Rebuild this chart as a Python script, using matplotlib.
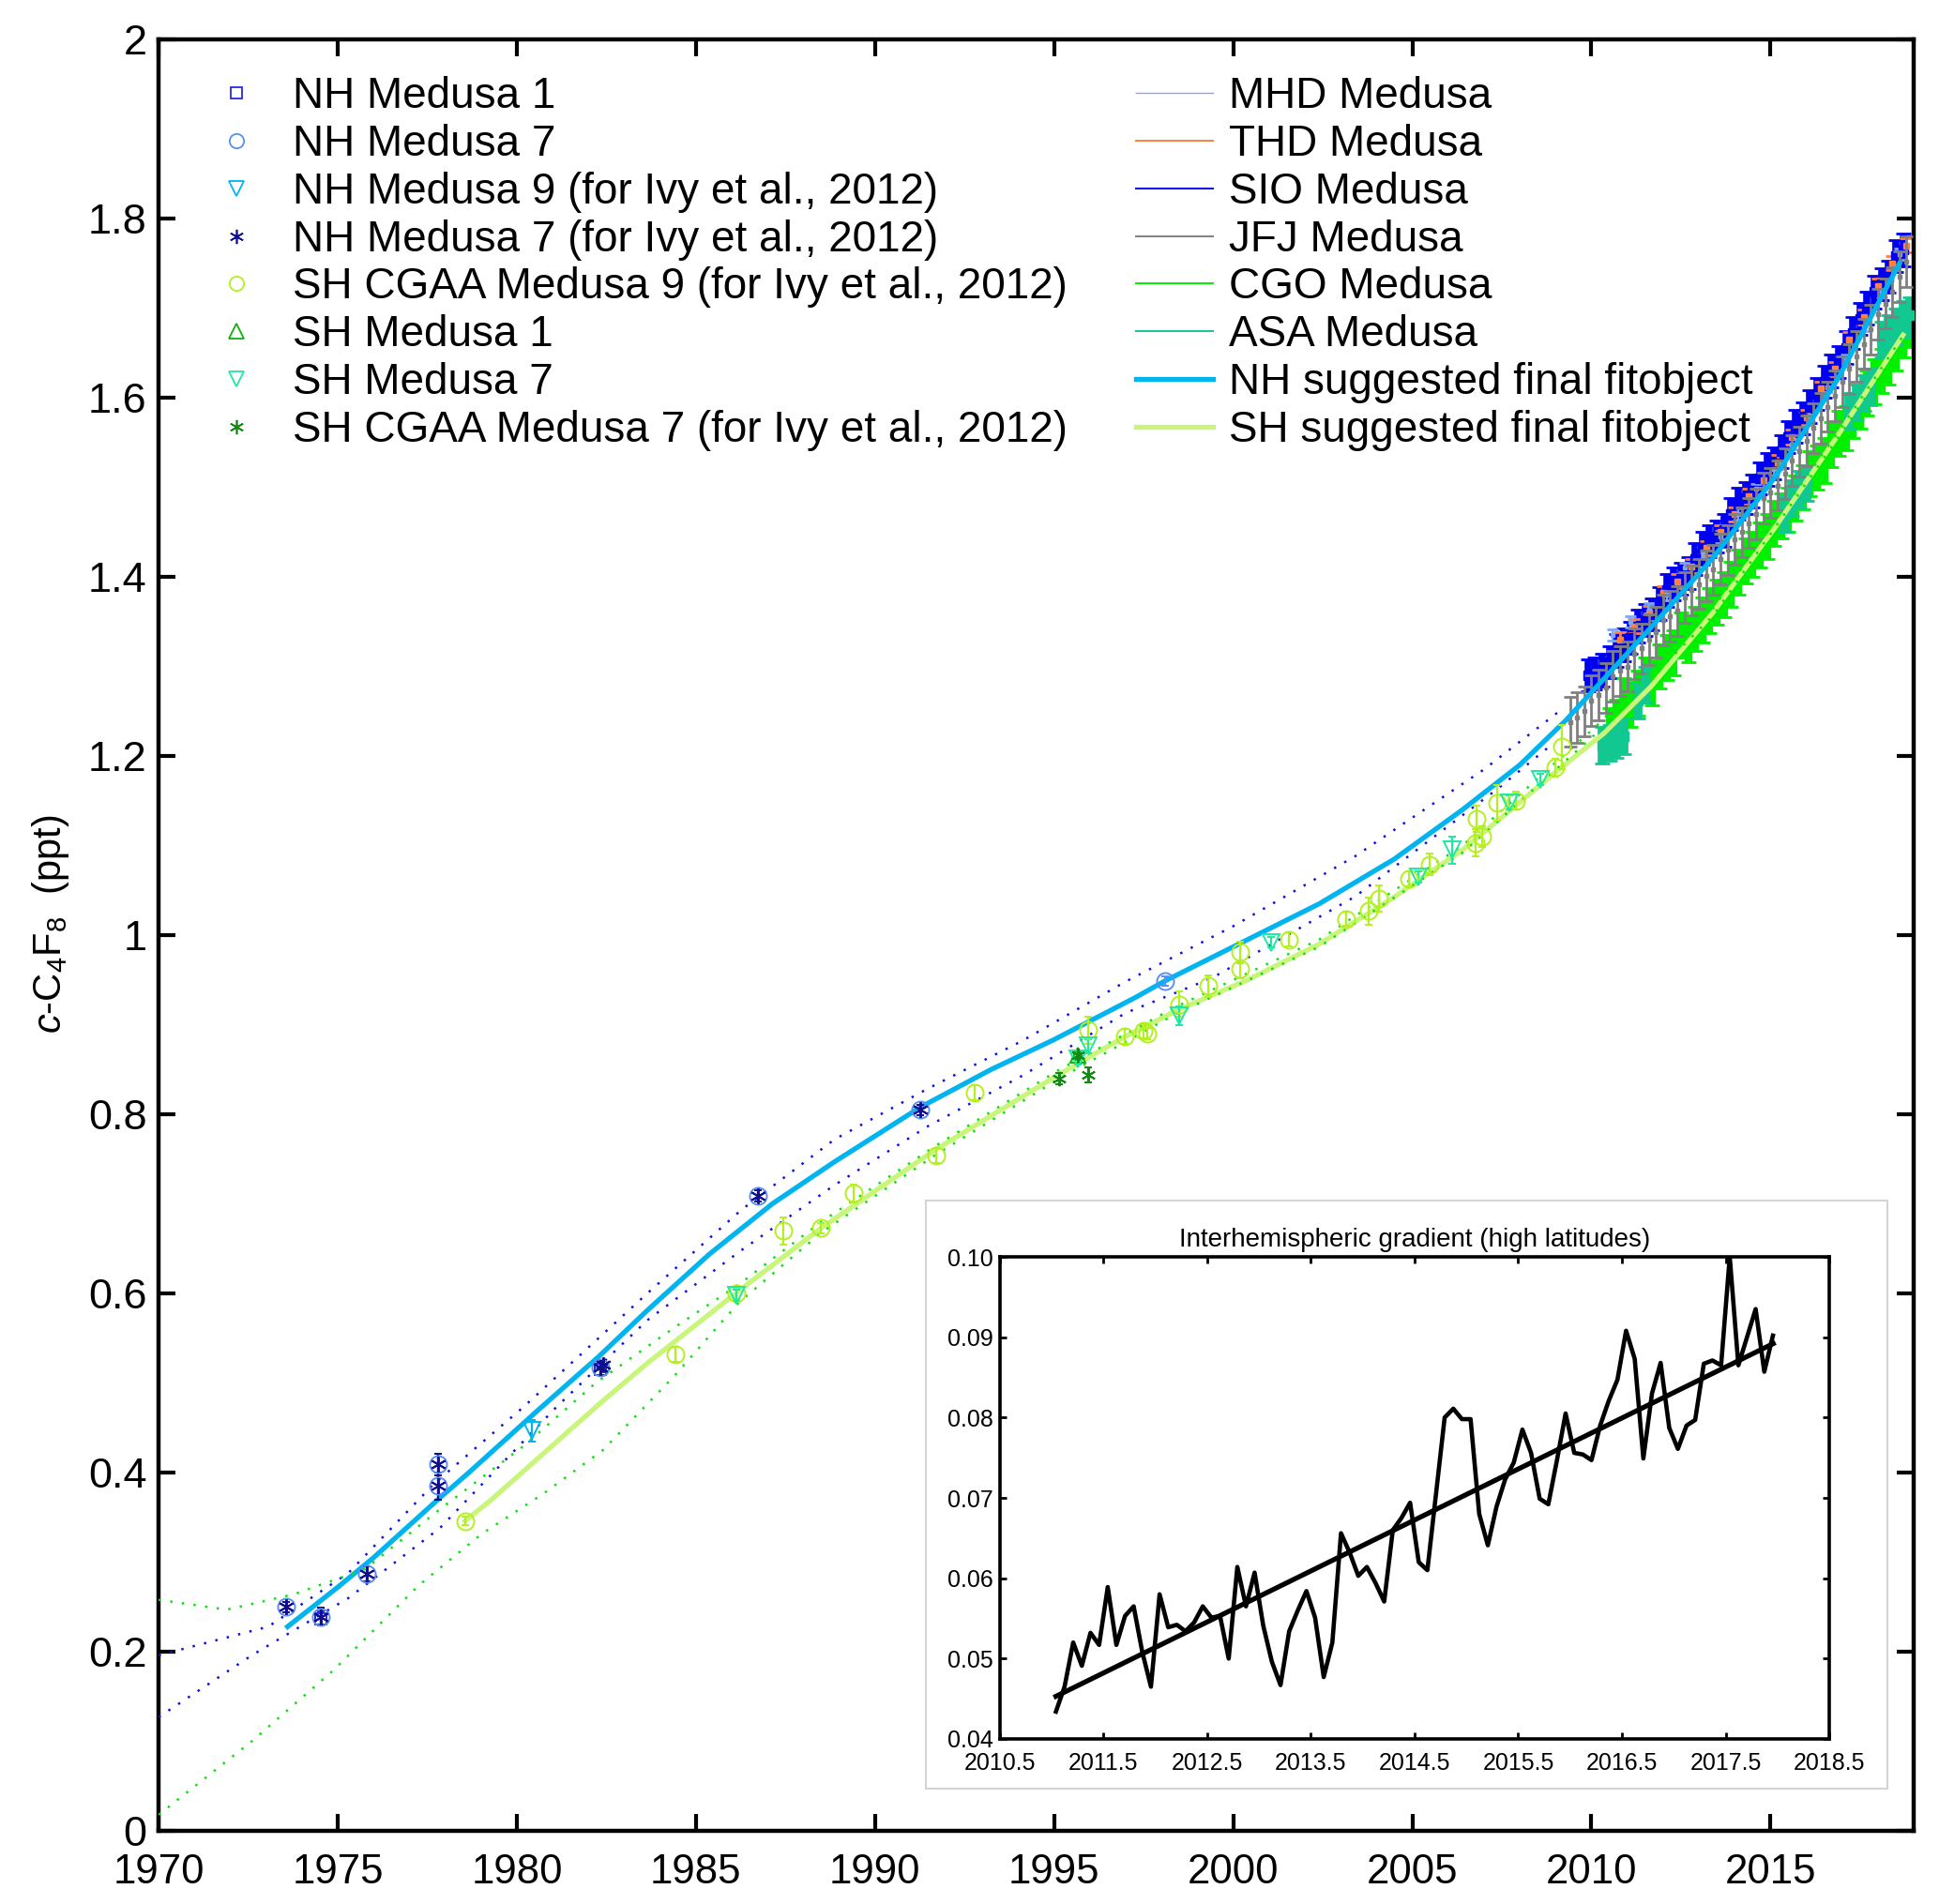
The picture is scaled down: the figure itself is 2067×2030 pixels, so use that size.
import numpy as np
import matplotlib
matplotlib.use("Agg")
import matplotlib.pyplot as plt
from matplotlib.lines import Line2D
from matplotlib.ticker import FuncFormatter

plt.rcParams['font.family'] = ['Liberation Sans', 'DejaVu Sans']
plt.rcParams['mathtext.fontset'] = 'custom'
plt.rcParams['mathtext.rm'] = 'Liberation Sans'
plt.rcParams['mathtext.it'] = 'Liberation Sans:italic'

# ---------------- data ----------------
# suggested final fits
nh_fit_t = [1973.6, 1975.0, 1976.0, 1977.8, 1978.66, 1980.6, 1982.3, 1983.64, 1985.38, 1987.13,
            1988.87, 1991.27, 1993.24, 1994.98, 1997.25, 1998.1, 2000.0, 2002.4, 2004.5,
            2006.4, 2008.0, 2009.29, 2011.65, 2013.39, 2015.14, 2016.88, 2018.6]
nh_fit_v = [0.228, 0.272, 0.305, 0.370, 0.400, 0.470, 0.530, 0.581, 0.644, 0.700,
            0.747, 0.808, 0.850, 0.883, 0.930, 0.949, 0.987, 1.035, 1.085,
            1.140, 1.190, 1.240, 1.343, 1.421, 1.512, 1.621, 1.750]
sh_fit_t = [1978.55, 1979.24, 1982.4, 1983.64, 1986.17, 1988.53, 1991.67, 1995.07, 1996.9,
            1998.38, 2000.4, 2002.4, 2004.4, 2006.4, 2007.9, 2009.0, 2010.34, 2011.65,
            2013.39, 2015.14, 2016.88, 2018.7]
sh_fit_v = [0.346, 0.368, 0.480, 0.522, 0.602, 0.674, 0.760, 0.843, 0.885,
            0.915, 0.950, 0.990, 1.040, 1.095, 1.145, 1.182, 1.225, 1.277,
            1.360, 1.456, 1.558, 1.670]

# dotted bounds
nh_up_t = [1970.0, 1973.06, 1975.3, 1977.7, 1980.18, 1983.64, 1986.26, 1988.87, 1991.49,
           1994.11, 1996.99, 2000.0, 2003.4, 2007.0, 2009.2]
nh_up_v = [0.196, 0.228, 0.288, 0.388, 0.473, 0.600, 0.693, 0.772, 0.829,
           0.882, 0.948, 1.010, 1.088, 1.185, 1.253]
nh_lo_t = [1970.0, 1972.6, 1975.3, 1977.85, 1981.1, 1983.64, 1986.26, 1988.87, 1991.49,
           1994.11, 1996.99, 1999.4, 2003.4, 2007.4, 2008.9]
nh_lo_v = [0.127, 0.196, 0.260, 0.338, 0.473, 0.570, 0.648, 0.721, 0.787,
           0.843, 0.913, 0.952, 1.043, 1.164, 1.213]
sh_up_t = [1970.0, 1971.9, 1973.76, 1975.75, 1977.85, 1980.2, 1982.2, 1984.4, 1986.2, 1988.5,
           1991.7, 1995.15, 1998.4, 2002.4, 2006.4, 2010.1, 2013.4, 2016.9, 2018.8]
sh_up_v = [0.258, 0.247, 0.264, 0.292, 0.359, 0.430, 0.500, 0.562, 0.610, 0.680,
           0.765, 0.850, 0.920, 0.995, 1.100, 1.232, 1.365, 1.562, 1.675]
sh_lo_t = [1970.0, 1972.6, 1974.9, 1977.26, 1979.0, 1980.76, 1982.4, 1984.4, 1986.2, 1988.5,
           1991.7, 1995.15, 1998.4, 2002.4, 2006.4, 2010.1, 2013.4, 2016.9, 2018.8]
sh_lo_v = [0.018, 0.100, 0.180, 0.274, 0.331, 0.377, 0.425, 0.508, 0.590, 0.668,
           0.755, 0.840, 0.912, 0.987, 1.092, 1.224, 1.357, 1.556, 1.668]

# archived air samples
nh_m1_t = [1974.54, 1982.32]
nh_m1_v = [0.237, 0.515]
nh_m1_e = [0.008, 0.006]
nh_m7_t = [1973.56, 1974.54, 1975.80, 1977.80, 1977.80, 1982.32, 1986.73, 1991.26, 1998.1]
nh_m7_v = [0.250, 0.239, 0.287, 0.409, 0.385, 0.517, 0.709, 0.805, 0.949]
nh_m7_e = [0.006, 0.010, 0.008, 0.012, 0.015, 0.008, 0.006, 0.006, 0.005]
nh_m9i_t = [1980.42]
nh_m9i_v = [0.447]
nh_m9i_e = [0.012]
nh_m7i_t = [1973.56, 1974.54, 1975.80, 1977.80, 1977.80, 1982.32, 1982.40, 1986.73, 1991.26]
nh_m7i_v = [0.250, 0.239, 0.287, 0.409, 0.385, 0.517, 0.520, 0.709, 0.805]
nh_m7i_e = [0.006, 0.010, 0.008, 0.012, 0.015, 0.008, 0.006, 0.006, 0.006]
sh_cg9_t = [1978.55, 1984.42, 1986.13, 1987.45, 1988.5, 1989.4, 1991.7, 1992.77, 1995.94,
            1996.96, 1997.5, 1997.6, 1998.5, 1999.3, 2000.2, 2000.2, 2001.56, 2003.15,
            2003.77, 2004.07, 2004.9, 2005.49, 2006.77, 2006.94, 2006.8, 2007.36, 2007.9,
            2008.98, 2009.18]
sh_cg9_v = [0.346, 0.532, 0.600, 0.670, 0.673, 0.712, 0.754, 0.824, 0.894,
            0.887, 0.893, 0.890, 0.923, 0.943, 0.981, 0.962, 0.995, 1.018,
            1.027, 1.041, 1.063, 1.079, 1.103, 1.110, 1.130, 1.148, 1.150,
            1.187, 1.210]
sh_cg9_e = [0.005, 0.008, 0.006, 0.015, 0.006, 0.010, 0.008, 0.008, 0.015,
            0.008, 0.008, 0.006, 0.014, 0.012, 0.012, 0.010, 0.008, 0.008,
            0.015, 0.015, 0.008, 0.012, 0.015, 0.012, 0.015, 0.020, 0.010,
            0.010, 0.025]
sh_m1_t = [1995.67]
sh_m1_v = [0.866]
sh_m1_e = [0.005]
sh_m7_t = [1986.13, 1995.67, 1995.94, 1998.5, 2001.06, 2005.17, 2006.1, 2007.7, 2008.57]
sh_m7_v = [0.598, 0.862, 0.876, 0.910, 0.992, 1.065, 1.095, 1.148, 1.174]
sh_m7_e = [0.006, 0.006, 0.008, 0.010, 0.006, 0.006, 0.015, 0.008, 0.006]
sh_cg7_t = [1995.15, 1995.67, 1995.94]
sh_cg7_v = [0.840, 0.866, 0.844]
sh_cg7_e = [0.006, 0.004, 0.008]

# in situ station records (start year, step in years, values)
jfj_start, jfj_step = 2009.4, 0.2
jfj_v = [1.238, 1.243, 1.250, 1.262, 1.268, 1.276, 1.289, 1.295, 1.300, 1.314, 1.320, 1.330,
         1.338, 1.352, 1.356, 1.362, 1.377, 1.385, 1.392, 1.401, 1.408, 1.420, 1.430, 1.442,
         1.450, 1.460, 1.470, 1.488, 1.494, 1.502, 1.515, 1.530, 1.540, 1.552, 1.566, 1.577,
         1.590, 1.602, 1.618, 1.632, 1.646, 1.660, 1.676, 1.693, 1.705, 1.718, 1.735, 1.752]
sio_start, sio_step = 2009.9, 0.2
sio_v = [1.290, 1.292, 1.296, 1.305, 1.318, 1.324, 1.332, 1.345, 1.352, 1.358, 1.370, 1.385,
         1.392, 1.398, 1.404, 1.420, 1.432, 1.440, 1.445, 1.452, 1.470, 1.482, 1.488, 1.496,
         1.510, 1.520, 1.527, 1.540, 1.556, 1.568, 1.577, 1.590, 1.604, 1.618, 1.630, 1.640,
         1.656, 1.672, 1.688, 1.700, 1.718, 1.727, 1.735, 1.758, 1.765]
thd_start, thd_step = 2010.8, 0.4
thd_v = [1.330, 1.345, 1.360, 1.382, 1.395, 1.412, 1.432, 1.450, 1.470, 1.490, 1.508, 1.528,
         1.556, 1.578, 1.610, 1.632, 1.665, 1.690, 1.725, 1.750, 1.770]
mhd_start, mhd_step = 2010.6, 0.5
mhd_v = [1.335, 1.350, 1.365, 1.380, 1.410, 1.428, 1.445, 1.470, 1.498, 1.520, 1.548, 1.580,
         1.612, 1.642, 1.680, 1.718, 1.760]
cgo_start, cgo_step = 2010.5, 0.2
cgo_v = [1.228, 1.238, 1.262, 1.258, 1.270, 1.285, 1.282, 1.300, 1.310, 1.315, 1.335, 1.330,
         1.342, 1.352, 1.362, 1.372, 1.380, 1.392, 1.405, 1.418, 1.425, 1.436, 1.445, 1.460,
         1.468, 1.475, 1.488, 1.500, 1.515, 1.522, 1.530, 1.548, 1.560, 1.566, 1.580, 1.590,
         1.605, 1.618, 1.630, 1.640, 1.655, 1.670, 1.682]
asa_t = [2010.3, 2010.5, 2010.7, 2010.9, 2011.3, 2011.5, 2015.4, 2015.6, 2015.8, 2016.0,
         2017.2, 2017.4, 2017.6, 2017.8, 2018.1, 2018.3, 2018.5, 2018.7, 2018.9]
asa_v = [1.212, 1.215, 1.218, 1.222, 1.262, 1.280, 1.470, 1.488, 1.498, 1.505,
         1.585, 1.595, 1.605, 1.612, 1.665, 1.672, 1.680, 1.688, 1.692]

# inset: monthly interhemispheric gradient
grad_start, grad_step = 2011.04, 1.0 / 12
grad_v = [0.0434, 0.0465, 0.0520, 0.0491, 0.0532, 0.0517, 0.0589, 0.0517, 0.0553, 0.0565,
          0.0508, 0.0465, 0.0580, 0.0539, 0.0542, 0.0534, 0.0545, 0.0565, 0.0551, 0.0553,
          0.0500, 0.0614, 0.0565, 0.0607, 0.0541, 0.0496, 0.0467, 0.0534, 0.0560, 0.0584,
          0.0551, 0.0477, 0.0520, 0.0656, 0.0632, 0.0603, 0.0614, 0.0594, 0.0571, 0.0660,
          0.0675, 0.0694, 0.0620, 0.0610, 0.0705, 0.0800, 0.0811, 0.0798, 0.0798, 0.0680,
          0.0641, 0.0689, 0.0723, 0.0744, 0.0785, 0.0756, 0.0699, 0.0692, 0.0747, 0.0805,
          0.0756, 0.0754, 0.0747, 0.0790, 0.0821, 0.0847, 0.0908, 0.0873, 0.0749, 0.0830,
          0.0868, 0.0787, 0.0761, 0.0790, 0.0797, 0.0867, 0.0871, 0.0865, 0.1000, 0.0865,
          0.0900, 0.0935, 0.0857, 0.0902]
trend_t = [2011.04, 2017.96]
trend_v = [0.0453, 0.0892]

# ---------------- colours ----------------
c_nh1 = '#2828E6'
c_nh7 = '#5C8FEF'
c_nh9i = '#00B4F0'
c_nh7i = '#10108C'
c_sh9 = '#B4F020'
c_sh1 = '#10B010'
c_sh7 = '#20E8A0'
c_sh7i = '#108A10'
c_mhd = '#80A8F8'
c_thd = '#FF8040'
c_sio = '#0000F0'
c_jfj = '#808080'
c_cgo = '#00F000'
c_asa = '#10C890'
c_nhfit = '#00B4F0'
c_shfit = '#C8F57A'


def series_t(start, step, vals):
    return start + step * np.arange(len(vals))


fig = plt.figure(figsize=(20.67, 20.30), dpi=100)
ax = fig.add_axes([0.0818, 0.0384, 0.9052, 0.9409])

# station records
eb = dict(ls='none', capthick=2)
ax.errorbar(series_t(sio_start, sio_step, sio_v), sio_v, yerr=0.018, color=c_sio,
            marker='s', ms=7, elinewidth=5.5, capsize=6, zorder=2, **eb)
ax.errorbar(series_t(thd_start, thd_step, thd_v), thd_v, yerr=0.008, color=c_thd,
            marker='s', ms=4, elinewidth=2, capsize=5, zorder=2, **eb)
ax.errorbar(series_t(mhd_start, mhd_step, mhd_v), mhd_v, yerr=0.006, color=c_mhd,
            marker='s', ms=3, elinewidth=1.5, capsize=4, zorder=2, **eb)
ax.errorbar(series_t(jfj_start, jfj_step, jfj_v), jfj_v, yerr=0.028, color=c_jfj,
            marker='s', ms=3, elinewidth=2, capsize=5, zorder=3, **eb)
ax.errorbar(series_t(cgo_start, cgo_step, cgo_v), cgo_v, yerr=0.025, color=c_cgo,
            marker='s', ms=7, elinewidth=6, capsize=6, zorder=2, **eb)
ax.errorbar(asa_t, asa_v, yerr=0.02, color=c_asa,
            marker='s', ms=7, elinewidth=7, capsize=6, zorder=2.5, **eb)

# fits and bounds
ax.plot(nh_fit_t, nh_fit_v, color=c_nhfit, lw=3.8, zorder=4)
ax.plot(sh_fit_t, sh_fit_v, color=c_shfit, lw=3.8, zorder=4)
dot = (0, (1, 4))
ax.plot(nh_up_t, nh_up_v, color='#1010E0', lw=1.8, ls=dot, zorder=5)
ax.plot(nh_lo_t, nh_lo_v, color='#1010E0', lw=1.8, ls=dot, zorder=5)
ax.plot(sh_up_t, sh_up_v, color='#10E010', lw=1.8, ls=dot, zorder=5)
ax.plot(sh_lo_t, sh_lo_v, color='#10E010', lw=1.8, ls=dot, zorder=5)

# archived samples
pk = dict(ls='none', mfc='none', capsize=3, elinewidth=1.6, capthick=1.6, mew=1.4, zorder=6)
ax.errorbar(sh_cg9_t, sh_cg9_v, yerr=sh_cg9_e, color=c_sh9, marker='o', ms=13, **pk)
ax.errorbar(sh_m1_t, sh_m1_v, yerr=sh_m1_e, color=c_sh1, marker='^', ms=11, **pk)
ax.errorbar(sh_m7_t, sh_m7_v, yerr=sh_m7_e, color=c_sh7, marker='v', ms=13, **pk)
ax.errorbar(sh_cg7_t, sh_cg7_v, yerr=sh_cg7_e, color=c_sh7i, marker=(6, 2, 0), ms=11, **pk)
ax.errorbar(nh_m1_t, nh_m1_v, yerr=nh_m1_e, color=c_nh1, marker='s', ms=9, **pk)
ax.errorbar(nh_m7_t, nh_m7_v, yerr=nh_m7_e, color=c_nh7, marker='o', ms=13, **pk)
ax.errorbar(nh_m9i_t, nh_m9i_v, yerr=nh_m9i_e, color=c_nh9i, marker='v', ms=13, **pk)
ax.errorbar(nh_m7i_t, nh_m7i_v, yerr=nh_m7i_e, color=c_nh7i, marker=(6, 2, 0), ms=12, **pk)

ax.set_xlim(1970, 2019)
ax.set_ylim(0, 2)
ax.set_xticks(np.arange(1970, 2016, 5))
ax.set_yticks(np.arange(0, 2.01, 0.2))
ax.yaxis.set_major_formatter(FuncFormatter(lambda v, p: '%g' % round(v, 1)))
ax.tick_params(direction='in', length=13, width=3, top=True, right=True)
ax.tick_params(axis='x', pad=17, labelsize=31.5)
ax.tick_params(axis='y', pad=9, labelsize=32.5)
for s in ax.spines.values():
    s.set_linewidth(3.2)
ax.set_ylabel(r'$\it{c}$-C$_4$F$_8$  (ppt)', fontsize=30)
ax.yaxis.set_label_coords(-0.050, 0.506)

# legends
left_handles = [
    Line2D([], [], ls='none', marker='s', mfc='none', mec=c_nh1, ms=9, mew=1.3, label='NH Medusa 1'),
    Line2D([], [], ls='none', marker='o', mfc='none', mec=c_nh7, ms=11, mew=1.3, label='NH Medusa 7'),
    Line2D([], [], ls='none', marker='v', mfc='none', mec=c_nh9i, ms=12, mew=1.3,
           label='NH Medusa 9 (for Ivy et al., 2012)'),
    Line2D([], [], ls='none', marker=(6, 2, 0), mec=c_nh7i, ms=11, mew=1.2,
           label='NH Medusa 7 (for Ivy et al., 2012)'),
    Line2D([], [], ls='none', marker='o', mfc='none', mec=c_sh9, ms=11, mew=1.3,
           label='SH CGAA Medusa 9 (for Ivy et al., 2012)'),
    Line2D([], [], ls='none', marker='^', mfc='none', mec=c_sh1, ms=12, mew=1.3, label='SH Medusa 1'),
    Line2D([], [], ls='none', marker='v', mfc='none', mec=c_sh7, ms=12, mew=1.3, label='SH Medusa 7'),
    Line2D([], [], ls='none', marker=(6, 2, 0), mec=c_sh7i, ms=11, mew=1.2,
           label='SH CGAA Medusa 7 (for Ivy et al., 2012)'),
]
right_handles = [
    Line2D([], [], color=c_mhd, lw=1.0, label='MHD Medusa'),
    Line2D([], [], color=c_thd, lw=1.4, label='THD Medusa'),
    Line2D([], [], color=c_sio, lw=1.4, label='SIO Medusa'),
    Line2D([], [], color=c_jfj, lw=1.4, label='JFJ Medusa'),
    Line2D([], [], color=c_cgo, lw=1.4, label='CGO Medusa'),
    Line2D([], [], color=c_asa, lw=1.4, label='ASA Medusa'),
    Line2D([], [], color=c_nhfit, lw=3.8, label='NH suggested final fitobject'),
    Line2D([], [], color=c_shfit, lw=3.8, label='SH suggested final fitobject'),
]
leg_kw = dict(loc='upper left', frameon=False, fontsize=33, borderpad=0, borderaxespad=0,
              labelspacing=0.15)
leg1 = ax.legend(handles=left_handles, bbox_to_anchor=(0.0321, 0.9796),
                 handlelength=1.0, handletextpad=0.80, **leg_kw)
ax.add_artist(leg1)
ax.legend(handles=right_handles, bbox_to_anchor=(0.5569, 0.9796),
          handlelength=1.78, handletextpad=0.37, **leg_kw)

# inset panel
box = fig.add_axes([0.4775, 0.0606, 0.4959, 0.3089])
box.set_xticks([])
box.set_yticks([])
for s in box.spines.values():
    s.set_color('#D4D4D4')
    s.set_linewidth(1.5)

ins = fig.add_axes([0.5157, 0.0867, 0.4277, 0.2532])
ins.plot(series_t(grad_start, grad_step, grad_v), grad_v, color='black', lw=3.3)
ins.plot(trend_t, trend_v, color='black', lw=3.8)
ins.set_xlim(2010.5, 2018.5)
ins.set_ylim(0.04, 0.10)
ins.set_xticks(np.arange(2010.5, 2018.6, 1.0))
ins.set_yticks(np.arange(0.04, 0.1001, 0.01))
ins.xaxis.set_major_formatter(FuncFormatter(lambda v, p: '%.1f' % v))
ins.yaxis.set_major_formatter(FuncFormatter(lambda v, p: '%.2f' % v))
ins.tick_params(direction='in', length=5, width=2, top=True, right=True, labelsize=18)
ins.tick_params(axis='x', pad=10)
ins.tick_params(axis='y', pad=5)
for s in ins.spines.values():
    s.set_linewidth(2.6)
ins.set_title('Interhemispheric gradient (high latitudes)', fontsize=20, pad=8)

fig.savefig('out.png', dpi=100)
